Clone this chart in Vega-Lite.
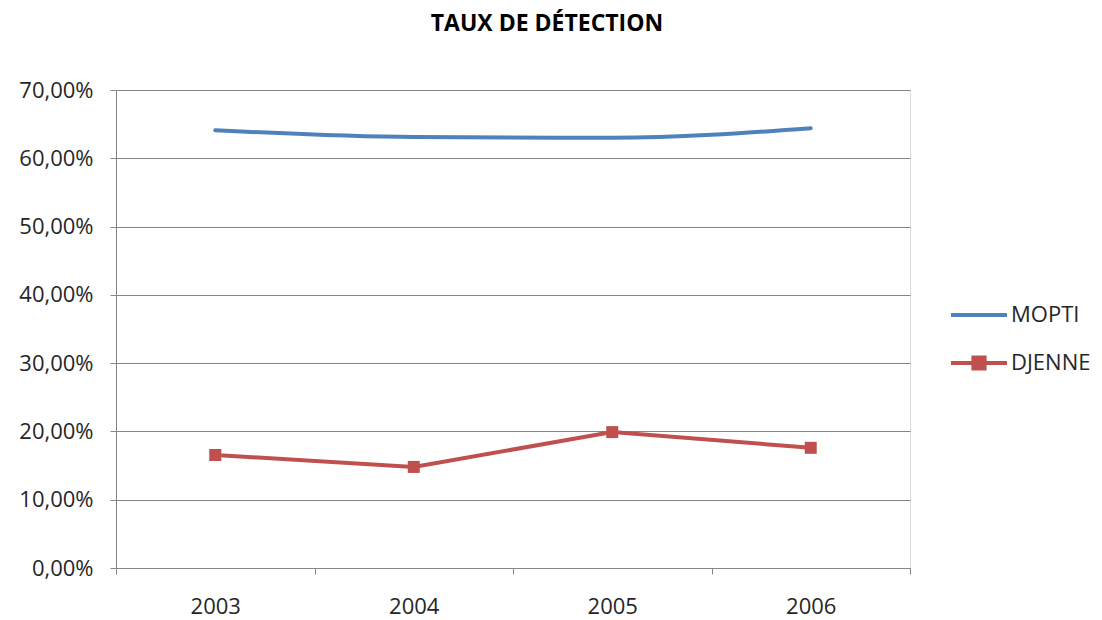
{
  "$schema": "https://vega.github.io/schema/vega-lite/v6.json",
  "width": 794,
  "height": 478,
  "autosize": "none",
  "padding": {"left": 116, "top": 90, "right": 192, "bottom": 52},
  "background": "white",
  "title": {"text": "TAUX DE DÉTECTION", "font": "Open Sans", "fontSize": 23, "fontWeight": "bold", "color": "#000000", "anchor": "middle", "dx": 34, "offset": 43},
  "data": {"values": [
    {"annee": "2003", "serie": "MOPTI", "taux": 0.641},
    {"annee": "2004", "serie": "MOPTI", "taux": 0.631},
    {"annee": "2005", "serie": "MOPTI", "taux": 0.630},
    {"annee": "2006", "serie": "MOPTI", "taux": 0.644},
    {"annee": "2003", "serie": "DJENNE", "taux": 0.1655},
    {"annee": "2004", "serie": "DJENNE", "taux": 0.148},
    {"annee": "2005", "serie": "DJENNE", "taux": 0.199},
    {"annee": "2006", "serie": "DJENNE", "taux": 0.176}
  ]},
  "encoding": {
    "x": {"field": "annee", "type": "ordinal", "scale": {"type": "band", "paddingInner": 0, "paddingOuter": 0},
      "axis": {"title": null, "labelAngle": 0, "tickBand": "extent", "domainColor": "#868686", "tickColor": "#868686", "tickSize": 6, "labelFont": "Open Sans", "labelFontSize": 22, "labelColor": "#262626", "labelPadding": 22, "grid": false}},
    "y": {"field": "taux", "type": "quantitative", "scale": {"domain": [0, 0.7]},
      "axis": {"title": null, "values": [0, 0.1, 0.2, 0.3, 0.4, 0.5, 0.6, 0.7], "labelExpr": "replace(format(datum.value, '.2%'), '.', ',')", "grid": true, "gridColor": "#868686", "domainColor": "#868686", "tickColor": "#868686", "tickSize": 6, "labelFont": "Open Sans", "labelFontSize": 22, "labelColor": "#262626", "labelPadding": 17}}
  },
  "layer": [
    {
      "transform": [{"filter": "datum.serie === 'MOPTI'"}],
      "mark": {"type": "line", "strokeWidth": 4, "interpolate": "monotone", "strokeCap": "round"},
      "encoding": {"color": {"field": "serie", "type": "nominal", "sort": ["MOPTI", "DJENNE"],
        "scale": {"domain": ["MOPTI", "DJENNE"], "range": ["#4F81BD", "#C0504D"]},
        "legend": {"title": null, "orient": "none", "legendX": 833, "legendY": 195, "labelFont": "Open Sans", "labelFontSize": 22, "labelColor": "#262626", "symbolSize": 3136, "symbolStrokeWidth": 4, "rowPadding": 7, "labelOffset": 2,
          "encode": {"symbols": {"update": {
            "shape": {"signal": "datum.value === 'DJENNE' ? 'M-1,0H1M-0.2,-0.2H0.2V0.2H-0.2Z' : 'M-1,0H1'"},
            "fill": {"signal": "datum.value === 'DJENNE' ? '#C0504D' : 'transparent'"},
            "stroke": {"signal": "datum.value === 'DJENNE' ? '#C0504D' : '#4F81BD'"},
            "strokeWidth": {"value": 4}
          }}}}}}
    },
    {
      "transform": [{"filter": "datum.serie === 'DJENNE'"}],
      "mark": {"type": "line", "strokeWidth": 4},
      "encoding": {"color": {"field": "serie", "type": "nominal"}}
    },
    {
      "transform": [{"filter": "datum.serie === 'DJENNE'"}],
      "mark": {"type": "square", "size": 144, "filled": true, "opacity": 1, "color": "#C0504D"},
      "encoding": {}
    }
  ]
}
